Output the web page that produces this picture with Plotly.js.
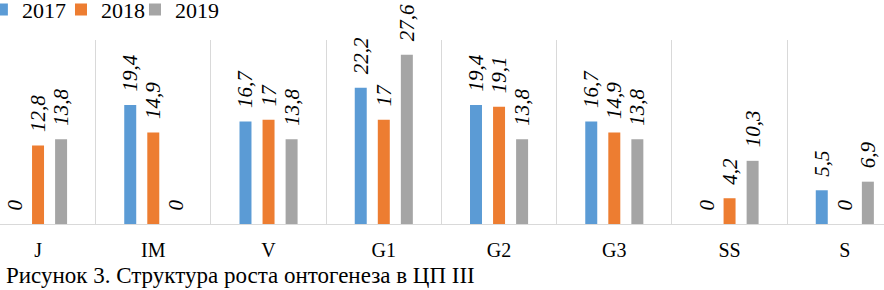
<!DOCTYPE html>
<html>
<head>
<meta charset="utf-8">
<script src="https://cdn.plot.ly/plotly-3.0.1.min.js"></script>
<style>html,body{margin:0;padding:0;background:#fff;}</style>
</head>
<body>
<div id="chart" style="width:884px;height:290px;"></div>
<script>
const categories = ["J", "IM", "V", "G1", "G2", "G3", "SS", "S"];
const seriesNames = ["2017", "2018", "2019"];
const values2017 = [0, 19.4, 16.7, 22.2, 19.4, 16.7, 0, 5.5];
const values2018 = [12.8, 14.9, 17, 17, 19.1, 14.9, 4.2, 0];
const values2019 = [13.8, 0, 13.8, 27.6, 13.8, 13.8, 10.3, 6.9];
const colors = ["#5B9BD5", "#ED7D31", "#A5A5A5"];
const caption = "Рисунок 3. Структура роста онтогенеза в ЦП III";

const serif = "Liberation Serif, Times New Roman, serif";
const fmt = v => "\u00a0\u00a0" + String(v).replace(".", ",");

const legendIds = ["legend", "legend2", "legend3"];
const legendX = [-0.0205, 0.069, 0.1527];

const allValues = [values2017, values2018, values2019];
const traces = allValues.map((vals, i) => ({
  type: "bar",
  name: seriesNames[i],
  legend: legendIds[i],
  x: categories,
  y: vals,
  marker: {color: colors[i]},
  text: vals.map(fmt),
  textposition: "outside",
  textangle: -90,
  constraintext: "none",
  cliponaxis: false,
  textfont: {family: serif, size: 21, style: "italic", color: "#000"},
  hoverinfo: "skip"
}));

const layout = {
  width: 884,
  height: 290,
  margin: {l: 0, r: 0, t: 40, b: 66, autoexpand: false},
  paper_bgcolor: "#fff",
  plot_bgcolor: "#fff",
  barmode: "group",
  bargap: 0.40,
  bargroupgap: 0.48,
  showlegend: true,
  xaxis: {
    type: "category",
    range: [-0.33, 7.34],
    tickson: "boundaries",
    showgrid: true,
    gridcolor: "#D9D9D9",
    gridwidth: 1,
    showline: true,
    linecolor: "#D9D9D9",
    linewidth: 1,
    ticks: "",
    ticklabelstandoff: 8,
    tickfont: {family: serif, size: 20, color: "#000"},
    fixedrange: true
  },
  yaxis: {
    range: [0, 30],
    showgrid: false,
    zeroline: false,
    showticklabels: false,
    ticks: "",
    fixedrange: true
  },
  annotations: [{
    text: caption,
    xref: "paper", yref: "paper",
    x: 0.004, y: -0.278,
    xanchor: "left", yanchor: "middle",
    showarrow: false,
    font: {family: serif, size: 23, color: "#000"}
  }]
};

legendIds.forEach((id, i) => {
  layout[id] = {
    orientation: "h",
    x: legendX[i],
    xanchor: "left",
    y: 1.165,
    yanchor: "middle",
    font: {family: serif, size: 22, color: "#000"},
    bgcolor: "rgba(0,0,0,0)",
    itemclick: false
  };
});

Plotly.newPlot("chart", traces, layout, {displayModeBar: false, staticPlot: true});
</script>
</body>
</html>
